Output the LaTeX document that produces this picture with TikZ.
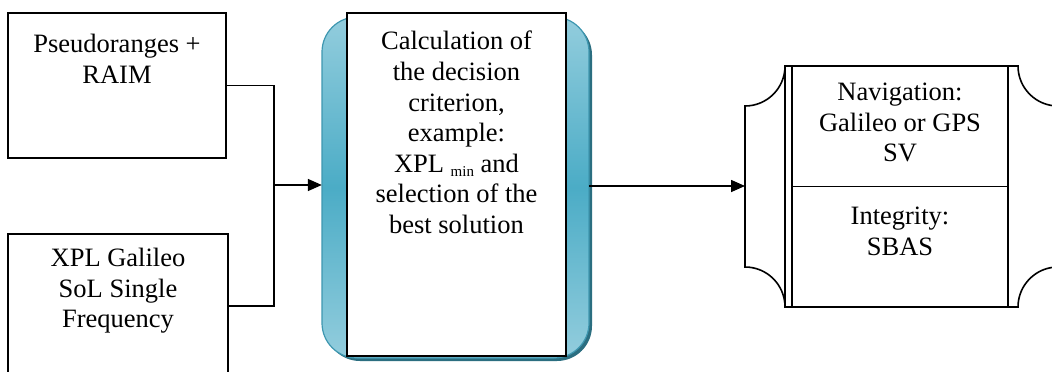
\documentclass[tikz,border=0pt]{standalone}
\usepackage{fontspec}
\setmainfont{Liberation Serif}
\usetikzlibrary{arrows.meta}
\definecolor{bluelight}{HTML}{93CDDD}
\definecolor{bluemid}{HTML}{4BACC6}
\definecolor{blueline}{HTML}{3E97B0}
\definecolor{blueshadow}{HTML}{2B6E80}
\tikzset{
  box/.style={draw=black, line width=1.6pt, fill=white, inner sep=0pt},
  txt/.style={align=center, inner sep=0pt, anchor=north, font=\fontsize{26.5}{30.6}\selectfont},
  conn/.style={line width=1.6pt, draw=black},
  arr/.style={conn, -{Triangle[length=14pt,width=12pt]}}
}
\begin{document}
\begin{tikzpicture}[x=1pt,y=-1pt]
\useasboundingbox (0,0) rectangle (1052,372);
% left boxes
\node[box, minimum width=218, minimum height=145] (b1) at (117,85.5) {};
\node[txt] (t1) at (117,34) {Pseudoranges +\\RAIM};
\node[box, minimum width=220, minimum height=144] (b2) at (118,306) {};
\node[txt] (t2) at (118,248) {XPL Galileo\\SoL Single\\Frequency};
% center blue box
\fill[blueshadow, rounded corners=35] (325,20) rectangle (592,361);
\shade[rounded corners=35, top color=bluelight, bottom color=bluelight, middle color=bluemid] (322,17) rectangle (589,358);
\draw[blueline, line width=1.2pt, rounded corners=35] (322,17) rectangle (589,358);
\node[draw=none, minimum width=267, minimum height=341, inner sep=0pt] (cb) at (455.5,187.5) {};
\node[box, minimum width=219, minimum height=343] (c) at (456.5,184.5) {};
\node[txt] (tc) at (456.5,31) {Calculation of\\the decision\\criterion,\\example:\\XPL \raisebox{-0.35ex}{\fontsize{15}{15}\selectfont min} and\\selection of the\\best solution};
% right plaque
\draw[line width=1.6pt, fill=white]
  (745,106) arc[start angle=90, end angle=0, radius=40]
  -- (1018,66) arc[start angle=180, end angle=90, radius=40]
  -- (1058,267) arc[start angle=270, end angle=180, radius=40]
  -- (785,307) arc[start angle=0, end angle=-90, radius=40] -- cycle;
\coordinate (pw) at (745,186);
\node[box, minimum width=216, minimum height=120.5] (n) at (900,126.25) {};
\node[box, minimum width=216, minimum height=120.5] (i) at (900,246.75) {};
\draw[line width=1.6pt] (785,66) -- (785,307);
\node[txt] (tn) at (900,83) {Navigation:\\Galileo or GPS\\SV};
\node[txt] (ti) at (900,207) {Integrity:\\SBAS};
% connectors
\coordinate (j) at (274,185);
\draw[conn] (b1.east) -| (j);
\draw[conn] (b2.east) -| (j);
\draw[arr] (j) -- (j -| cb.west);
\draw[arr] (cb.east |- pw) -- (pw);
\end{tikzpicture}
\end{document}
